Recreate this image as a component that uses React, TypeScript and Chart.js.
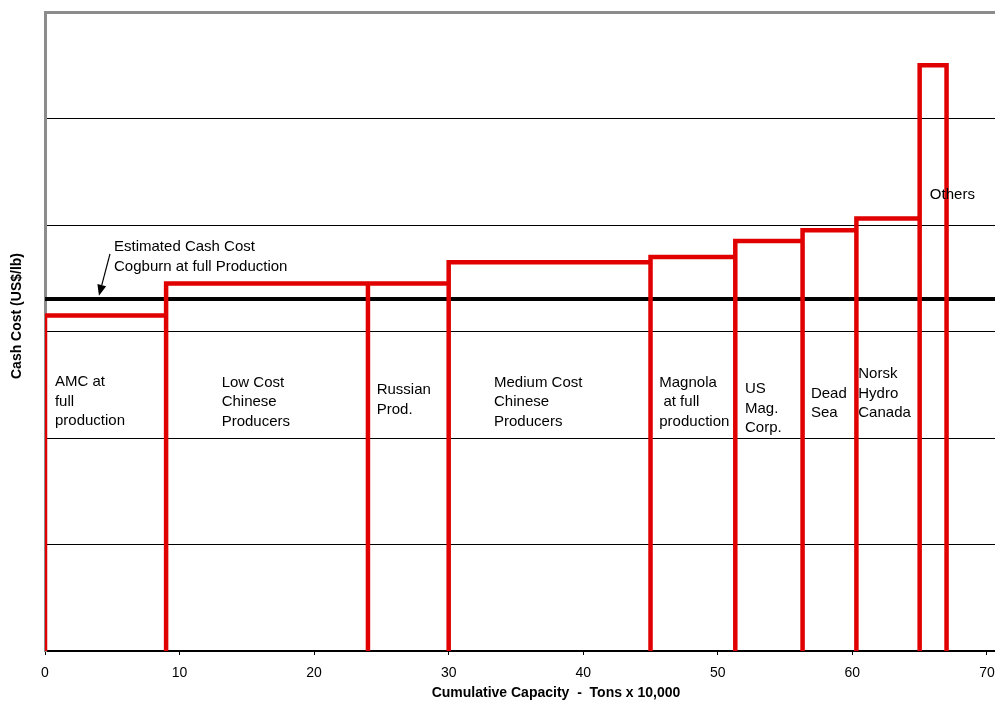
import React, { useEffect, useRef } from "react";
import { Chart, registerables } from "chart.js";

Chart.register(...registerables);

// ---- Data ----
const producers = [
  "AMC at full production",
  "Low Cost Chinese Producers",
  "Russian Prod.",
  "Medium Cost Chinese Producers",
  "Magnola at full production",
  "US Mag. Corp.",
  "Dead Sea",
  "Norsk Hydro Canada",
  "Others",
];
// capacity of each producer (Tons x 10,000)
const capacities = [9, 15, 6, 15, 6.3, 5, 4, 4.7, 2];
// cash cost of each producer (US$/lb, arbitrary unlabelled scale)
const cashCosts = [3.15, 3.45, 3.45, 3.65, 3.7, 3.85, 3.95, 4.06, 5.5];
// Cogburn estimated cash cost
const cogburnCost = 3.305;

const xTicks = [0, 10, 20, 30, 40, 50, 60, 70];
const yGridValues = [0, 1, 2, 3, 4, 5, 6];
const xMax = 70.6;
const yMax = 6;

// Text labels, one per producer (lines)
const labelLines = [
  ["AMC at", "full", "production"],
  ["Low Cost", "Chinese", "Producers"],
  ["Russian", "Prod."],
  ["Medium Cost", "Chinese", "Producers"],
  ["Magnola", " at full", "production"],
  ["US", "Mag.", "Corp."],
  ["Dead", "Sea"],
  ["Norsk", "Hydro", "Canada"],
  ["Others"],
];
// label anchors in data units [x, y of first line]
const labelAnchors = [
  [0.74, 2.526],
  [13.13, 2.52],
  [24.65, 2.45],
  [33.37, 2.52],
  [45.65, 2.52],
  [52.02, 2.457],
  [56.92, 2.416],
  [60.44, 2.6],
  [65.76, 4.28],
];
const noteLines = ["Estimated Cash Cost", "Cogburn at full Production"];
const noteAnchor = [5.13, 3.793];
const arrowFrom = [4.83, 3.728];
const arrowTo = [4.01, 3.335];

const xTitle = "Cumulative Capacity  -  Tons x 10,000";
const yTitle = "Cash Cost (US$/lb)";

const FONT = "'Liberation Sans', Arial, sans-serif";

function buildSteps() {
  const pts: { x: number; y: number }[] = [];
  let x0 = 0;
  pts.push({ x: 0, y: 0 });
  for (let i = 0; i < capacities.length; i++) {
    const x1 = x0 + capacities[i];
    const h = cashCosts[i];
    pts.push({ x: x0, y: h });
    pts.push({ x: x1, y: h });
    pts.push({ x: x1, y: 0 });
    x0 = x1;
  }
  return pts;
}

const annotationPlugin = {
  id: "annotations",
  afterDatasetsDraw(chart: any) {
    const { ctx, scales } = chart;
    const xs = scales.x;
    const ys = scales.y;
    ctx.save();
    ctx.fillStyle = "#000";
    ctx.font = `15px ${FONT}`;
    ctx.textAlign = "left";
    ctx.textBaseline = "middle";
    const lh = 19.5;
    labelLines.forEach((lines, i) => {
      const px = xs.getPixelForValue(labelAnchors[i][0]);
      const py = ys.getPixelForValue(labelAnchors[i][1]);
      lines.forEach((t, j) => ctx.fillText(t, px, py + j * lh));
    });
    const nx = xs.getPixelForValue(noteAnchor[0]);
    const ny = ys.getPixelForValue(noteAnchor[1]);
    noteLines.forEach((t, j) => ctx.fillText(t, nx, ny + j * 20));

    // arrow
    const ax0 = xs.getPixelForValue(arrowFrom[0]);
    const ay0 = ys.getPixelForValue(arrowFrom[1]);
    const ax1 = xs.getPixelForValue(arrowTo[0]);
    const ay1 = ys.getPixelForValue(arrowTo[1]);
    const ang = Math.atan2(ay1 - ay0, ax1 - ax0);
    const hl = 11;
    const hw = 4.5;
    const bx = ax1 - hl * Math.cos(ang);
    const by = ay1 - hl * Math.sin(ang);
    ctx.strokeStyle = "#000";
    ctx.lineWidth = 1.2;
    ctx.beginPath();
    ctx.moveTo(ax0, ay0);
    ctx.lineTo(bx, by);
    ctx.stroke();
    ctx.beginPath();
    ctx.moveTo(ax1, ay1);
    ctx.lineTo(bx + hw * Math.sin(ang), by - hw * Math.cos(ang));
    ctx.lineTo(bx - hw * Math.sin(ang), by + hw * Math.cos(ang));
    ctx.closePath();
    ctx.fill();

    // axis titles
    ctx.font = `bold 14px ${FONT}`;
    ctx.textAlign = "center";
    ctx.textBaseline = "middle";
    ctx.fillText(xTitle, 556, 693);
    ctx.translate(17, 316);
    ctx.rotate(-Math.PI / 2);
    ctx.fillText(yTitle, 0, 0);
    ctx.restore();
  },
};

export default function App() {
  const ref = useRef<HTMLCanvasElement>(null);
  useEffect(() => {
    if (!ref.current) return;
    const chart = new Chart(ref.current, {
      type: "scatter",
      data: {
        datasets: [
          {
            label: "Cash cost curve",
            data: buildSteps(),
            showLine: true,
            borderColor: "#e00000",
            borderWidth: 4.5,
            pointRadius: 0,
            fill: false,
            tension: 0,
            clip: { left: 0, top: 10, right: 10, bottom: 0 },
          } as any,
          {
            label: "Cogburn",
            data: [
              { x: 0, y: cogburnCost },
              { x: xMax, y: cogburnCost },
            ],
            showLine: true,
            borderColor: "#000",
            borderWidth: 4,
            pointRadius: 0,
            fill: false,
            clip: { left: 0, top: 10, right: 0, bottom: 0 },
          } as any,
        ],
      },
      options: {
        responsive: false,
        animation: false,
        devicePixelRatio: 1,
        layout: { padding: { top: 12, right: 0, left: 0, bottom: 0 } },
        plugins: {
          legend: { display: false },
          tooltip: { enabled: false },
          title: { display: false },
        },
        scales: {
          x: {
            type: "linear",
            min: 0,
            max: xMax,
            afterBuildTicks: (s: any) => {
              s.ticks = xTicks.map((v) => ({ value: v }));
            },
            afterFit: (s: any) => {
              s.height = 53;
              s.paddingLeft = 0;
              s.paddingRight = 0;
            },
            grid: {
              drawOnChartArea: false,
              drawTicks: true,
              tickLength: 4,
              color: "#000",
            },
            border: { color: "#000", width: 2 },
            ticks: {
              color: "#000",
              font: { family: FONT, size: 14 },
              padding: 10,
              maxRotation: 0,
              autoSkip: false,
            },
          },
          y: {
            type: "linear",
            min: 0,
            max: yMax,
            afterBuildTicks: (s: any) => {
              s.ticks = yGridValues.map((v) => ({ value: v }));
            },
            afterFit: (s: any) => {
              s.width = 45;
              s.paddingTop = 0;
              s.paddingBottom = 0;
            },
            ticks: { display: false },
            grid: {
              drawTicks: false,
              color: (c: any) => (c.tick && c.tick.value === yMax ? "#8c8c8c" : "#000"),
              lineWidth: (c: any) => (c.tick && c.tick.value === yMax ? 3 : 1),
            },
            border: { color: "#8c8c8c", width: 3 },
          },
        },
      } as any,
      plugins: [annotationPlugin],
    });
    return () => chart.destroy();
  }, []);
  return (
    <div
      style={{
        position: "fixed",
        left: 0,
        top: 0,
        width: 995,
        height: 704,
        background: "#fff",
      }}
    >
      <canvas ref={ref} width={995} height={704} style={{ display: "block" }} />
    </div>
  );
}
